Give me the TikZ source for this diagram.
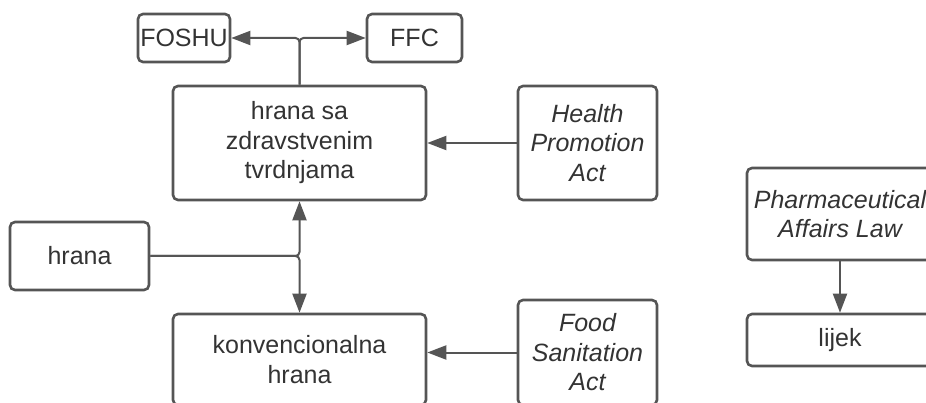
\documentclass[tikz,border=0pt]{standalone}
\usepackage{fontspec}
\setmainfont{Liberation Sans}
\usetikzlibrary{arrows.meta}
\definecolor{edge}{HTML}{555555}
\definecolor{txt}{HTML}{333333}
\begin{document}
\begin{tikzpicture}[x=1pt,y=-1pt,
  box/.style={draw=edge, line width=2.6pt, rounded corners=5pt, align=center,
    inner sep=0pt, text=txt, font=\fontsize{25}{29.5}\selectfont},
  law/.style={box, font=\fontsize{25}{29.5}\selectfont\itshape},
  conn/.style={draw=edge, line width=2pt, rounded corners=4pt,
    -{Triangle[length=19pt,width=14pt]}},
]
\useasboundingbox (0,0) rectangle (926,403);
\node[box, minimum width=92pt, minimum height=48pt] (foshu) at (184,38) {FOSHU};
\node[box, minimum width=95pt, minimum height=48pt] (ffc) at (414.5,38) {FFC};
\node[box, minimum width=253pt, minimum height=114pt] (hsz) at (299.5,143) {hrana sa\\zdravstvenim\\tvrdnjama};
\node[law, minimum width=139pt, minimum height=114pt] (hpa) at (587.5,143) {Health\\Promotion\\Act};
\node[box, minimum width=139pt, minimum height=68pt] (hrana) at (79.5,256) {hrana};
\node[box, minimum width=253pt, minimum height=91pt] (konv) at (299.5,359.5) {konvencionalna\\hrana};
\node[law, minimum width=139pt, minimum height=105pt] (fsa) at (587.5,352.5) {Food\\Sanitation\\Act};
\node[law, minimum width=186pt, minimum height=92pt] (pal) at (840,214) {Pharmaceutical\\Affairs Law};
\node[box, minimum width=186pt, minimum height=52pt] (lijek) at (840,340) {lijek};

\draw[conn] (hsz.north) |- (foshu.east);
\draw[conn] (hsz.north) |- (ffc.west);
\draw[conn] (hpa.west) -- (hsz.east);
\draw[conn] (fsa.west) -- (fsa.west -| konv.east);
\draw[conn] (hrana.east) -| (hsz.south);
\draw[conn] (hrana.east) -| (konv.north);
\draw[conn] (pal.south) -- (lijek.north);
\end{tikzpicture}
\end{document}
